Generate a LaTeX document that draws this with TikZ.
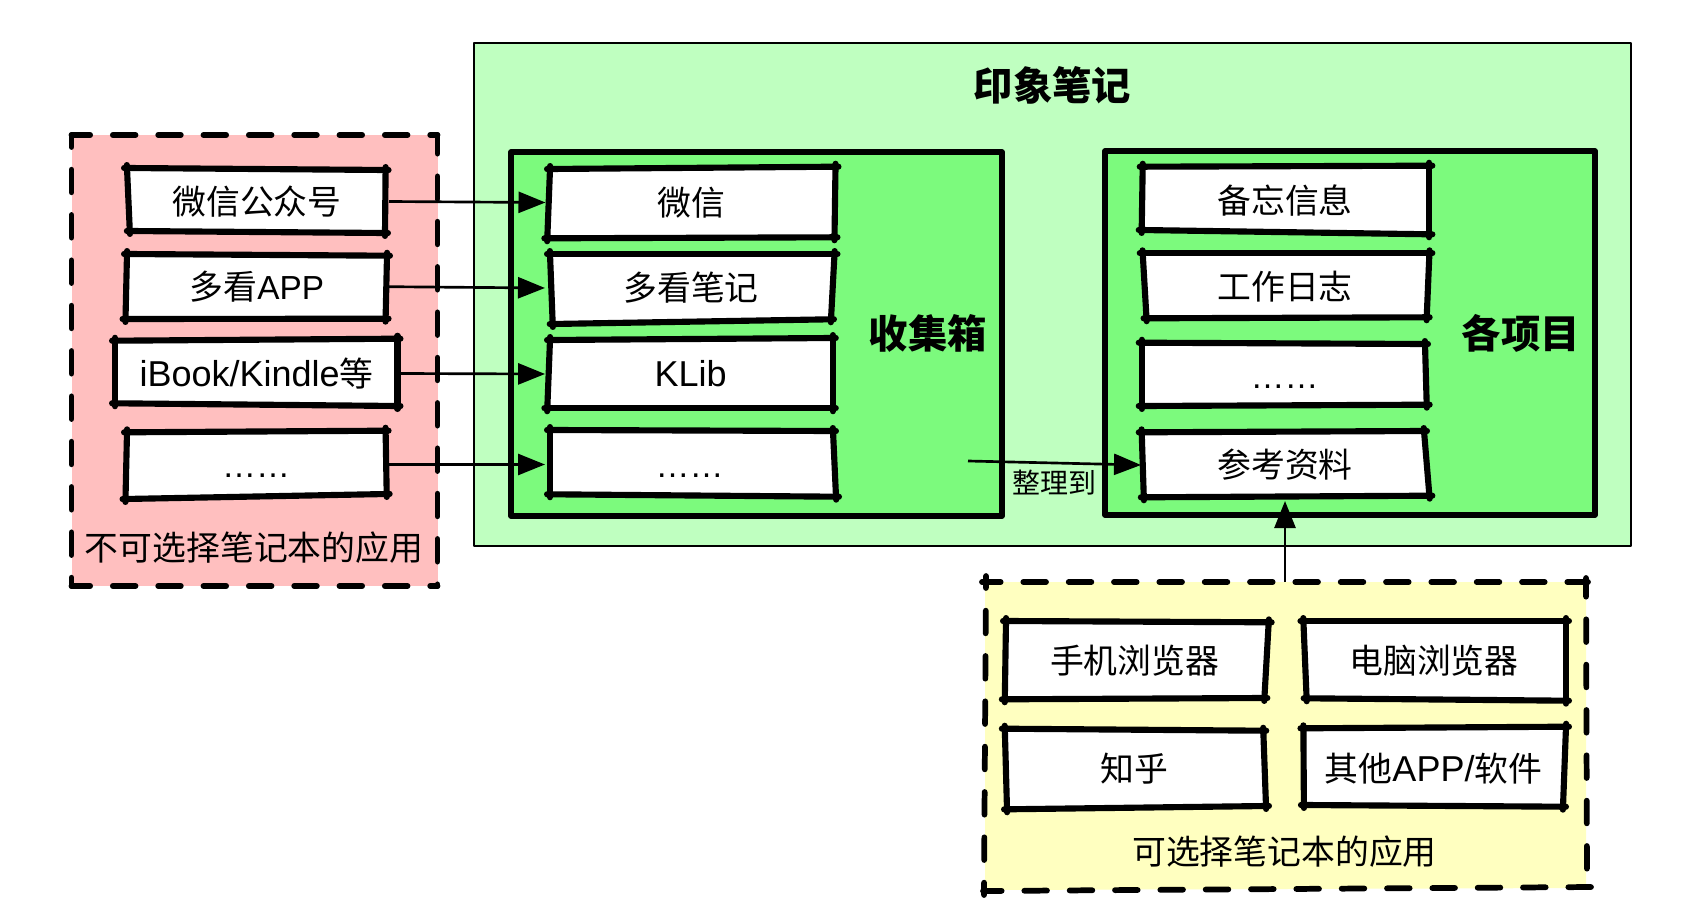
\documentclass[tikz,border=0pt]{standalone}
\usepackage{fontspec}
\setmainfont{Liberation Sans}
\newfontfamily\cjk[Scale=0.94]{Noto Sans CJK SC}
\usetikzlibrary{arrows.meta}
\definecolor{pinkfill}{HTML}{FFBFBF}
\definecolor{lightgreen}{HTML}{BFFFC0}
\definecolor{midgreen}{HTML}{7CFA7D}
\definecolor{yellowfill}{HTML}{FFFFC0}
\newcommand\txtstrut{\rule[-6pt]{0pt}{30.9pt}}
\newcommand\dotstext{{\fontsize{25.5pt}{30pt}\selectfont ……}}
\tikzset{
  x=0.75pt,y=-0.75pt,
  skline/.style={line width=4.6pt,line cap=round,shorten >=-2.2pt,shorten <=-2.2pt},
  dashside/.style={line width=4.3pt,line cap=round,dash pattern=on 17pt off 17pt},
  plainbox/.style={draw=black,line join=round},
  boxsize/.style 2 args={minimum width=#1*0.75pt,minimum height=#2*0.75pt,inner sep=0pt,outer sep=0pt},
  boxtext/.style={font=\fontsize{27pt}{32pt}\selectfont,align=center},
  titletext/.style={inner sep=0pt,font=\fontsize{31.4pt}{36pt}\selectfont\cjk\bfseries},
  grouptext/.style={inner sep=0pt,font=\fontsize{27pt}{32pt}\selectfont\cjk},
  smalltext/.style={inner sep=0pt,font=\fontsize{22.3pt}{26pt}\selectfont\cjk},
  conn/.style={line width=2pt,-{Triangle[length=20.25pt,width=15.75pt]}},
}
\newcommand\skquad[4]{%
  \fill[white] (#1) -- (#2) -- (#3) -- (#4) -- cycle;
  \draw[skline] (#1) -- (#2);
  \draw[skline] (#2) -- (#3);
  \draw[skline] (#3) -- (#4);
  \draw[skline] (#4) -- (#1);
}
\begin{document}
\begin{tikzpicture}
\useasboundingbox[fill=white] (0,0) rectangle (1696,920);

% main green panel
\draw[plainbox,fill=lightgreen,line width=1.9pt] (474,43) rectangle (1631,546);
\node[titletext] (title) at (1052.5,85) {印象笔记};

% inner panels
\draw[plainbox,fill=midgreen,line width=3.9pt] (511,152) rectangle (1002,516);
\draw[plainbox,fill=midgreen,line width=3.9pt] (1105,151) rectangle (1595,515);
\node[titletext] (inboxlabel) at (928,333.5) {收集箱};
\node[titletext] (projlabel) at (1521,333) {各项目};

% pink group
\fill[pinkfill] (71.5,135) rectangle (437.5,586);
\draw[dashside,dash phase=3pt] (71.5,135) -- (437.5,135);
\draw[dashside,dash phase=3pt] (71.5,586) -- (437.5,586);
\draw[dashside,dash phase=8pt] (71.5,135) -- (71.5,586);
\draw[dashside,dash phase=3pt] (437.5,135) -- (437.5,586);
\node[boxsize={366}{451}] (pinkgroup) at (254.5,360) {};
\node[grouptext] (pinklabel) at (254,548) {不可选择笔记本的应用};

% yellow group
\fill[yellowfill] (985,582) -- (1586,582) -- (1586,888) -- (985,890) -- cycle;
\draw[dashside,dash phase=3pt] (982,582) -- (1588,582);
\draw[dashside,dash phase=3pt] (983,891) -- (1593,887);
\draw[dashside,dash phase=8pt] (986,576) -- (984,895);
\draw[dashside,dash phase=3pt] (1586,578) -- (1587,888);
\node[boxsize={601}{308}] (yellowgroup) at (1285,736) {};
\node[grouptext] (yellowlabel) at (1284.5,852) {可选择笔记本的应用};

% left boxes
\skquad{127,168}{385.6,170}{385,233}{129.8,231}
\node[boxsize={264}{60},boxtext] (a1) at (257,201.5) {\txtstrut\cjk 微信公众号};
\skquad{127,254}{387,255.7}{385.6,318.7}{125.5,319}
\node[boxsize={262}{60},boxtext] (a2) at (257,286.7) {\txtstrut\cjk 多看{\normalfont\fontsize{25pt}{30pt}\selectfont APP}};
\skquad{115,340.7}{397.5,338.7}{397.5,406}{115,403.3}
\node[boxsize={288}{60},boxtext] (a3) at (256.5,373.5) {\txtstrut iBook/Kindle{\cjk 等}};
\skquad{127,432.3}{385.6,430.7}{386.7,494}{125.5,499}
\node[boxsize={266}{60},boxtext] (a4) at (256,464.5) {\txtstrut\dotstext};

% middle boxes
\skquad{550,169}{835.5,166.7}{834.5,237.3}{547.3,238.3}
\node[boxsize={291}{60},boxtext] (b1) at (691,202.5) {\txtstrut\cjk 微信};
\skquad{550,254}{834.5,254}{831,319.3}{552.7,324}
\node[boxsize={292}{60},boxtext] (b2) at (691,288) {\txtstrut\cjk 多看笔记};
\skquad{550,340}{832.8,338}{832.8,408.3}{547.3,408.3}
\node[boxsize={291}{60},boxtext] (b3) at (690.6,374) {\txtstrut KLib};
\skquad{550,430}{833,431}{836,496.7}{550,494.3}
\node[boxsize={289}{60},boxtext] (b4) at (689.5,464.5) {\txtstrut\dotstext};

% right boxes
\skquad{1142.7,166.7}{1429.4,165.7}{1429.4,234.3}{1141.7,230}
\node[boxsize={280}{60},boxtext] (c1) at (1285,200.5) {\txtstrut\cjk 备忘信息};
\skquad{1142.7,253.3}{1429.4,253.3}{1426.7,317.3}{1146.5,318.3}
\node[boxsize={280}{60},boxtext] (c2) at (1285,286.7) {\txtstrut\cjk 工作日志};
\skquad{1141.7,342.7}{1425,344}{1426.7,404.7}{1141.7,406}
\node[boxsize={280}{60},boxtext] (c3) at (1284.5,375.7) {\txtstrut\dotstext};
\skquad{1141.7,432.3}{1424,431}{1429.4,495.7}{1143.8,497.3}
\node[boxsize={288}{72},boxtext] (c4) at (1285,465) {\txtstrut\cjk 参考资料};

% yellow boxes
\skquad{1006,621}{1268.7,622.3}{1264.4,698}{1004.8,699.3}
\node[boxsize={250}{60},boxtext] (d1) at (1134.6,661) {\txtstrut\cjk 手机浏览器};
\skquad{1303.4,621}{1566,621}{1566,700.7}{1306.6,698.3}
\node[boxsize={250}{60},boxtext] (d2) at (1434,661) {\txtstrut\cjk 电脑浏览器};
\skquad{1004.8,728.7}{1263.3,730.7}{1266,806}{1007,809.3}
\node[boxsize={250}{60},boxtext] (d3) at (1134.5,769) {\txtstrut\cjk 知乎};
\skquad{1303.4,728.3}{1566,726.7}{1563,806.7}{1303.9,805}
\node[boxsize={250}{60},boxtext] (d4) at (1433.5,769) {\txtstrut\cjk 其他{\normalfont APP/}软件};

% connectors
\draw[conn] (a1.east) -- (b1.west);
\draw[conn] (a2.east) -- (b2.west);
\draw[conn] (a3.east) -- (b3.west);
\draw[conn] (a4.east) -- (b4.west);
\coordinate (inboxout) at (968,461);
\draw[conn] (inboxout) -- (c4.west);
\node[smalltext] (sortlabel) at (1054.5,483) {整理到};
\draw[conn] (yellowgroup.north) -- (c4.south);
\end{tikzpicture}
\end{document}
